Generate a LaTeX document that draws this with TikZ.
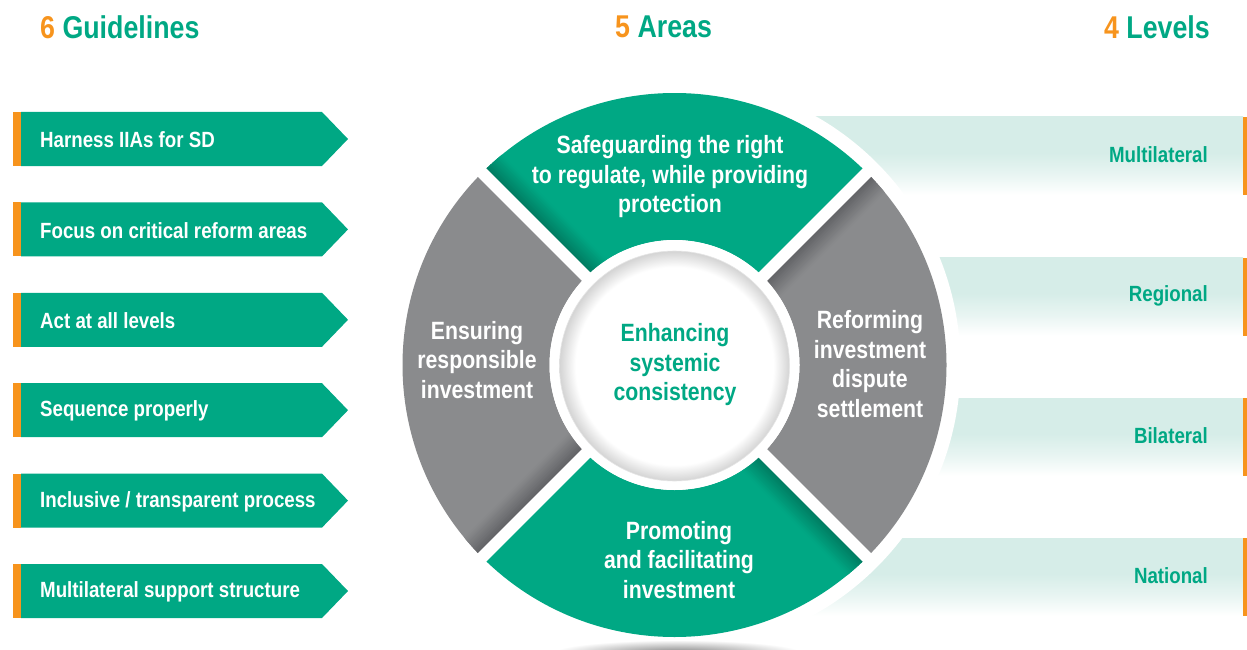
\documentclass[tikz,border=0pt]{standalone}
\usepackage{fontspec}
\setmainfont{Liberation Sans}[FakeStretch=0.85]
\definecolor{ugreen}{RGB}{0,168,132}
\definecolor{ugreendk}{RGB}{0,110,86}
\definecolor{uorange}{RGB}{247,148,29}
\definecolor{ugray}{RGB}{138,139,141}
\definecolor{ugraydk}{RGB}{85,86,90}
\definecolor{uband}{RGB}{214,237,232}
\pgfdeclareradialshading{innershade}{\pgfpoint{0bp}{0bp}}{color(0bp)=(white); color(21.5bp)=(white); color(25bp)=(black!17); color(50bp)=(black!17)}
\pgfdeclareverticalshading{bandshade}{100bp}{color(0bp)=(white); color(25bp)=(white); color(38bp)=(uband!55!white); color(52bp)=(uband); color(75bp)=(uband); color(100bp)=(uband)}
\newcommand\guidebox[3]{%
  \fill[ugreen] (21,#1-27) -- (322,#1-27) -- (348,#1) -- (322,#1+27) -- (21,#1+27) -- cycle;
  \fill[uorange] (13,#1-27) rectangle (21,#1+27);
  \node[guide] (#2) at (40,#1+1) {#3};}
\newcommand\levelband[3]{%
  \shade[shading=bandshade] (800,#1) rectangle (1243,#1+78);
  \fill[uorange] (1243,#1) rectangle (1247,#1+78);
  \node[level] (#2) at (1208,#1+38) {#3};}
\newcommand\segpath[1]{(#1:125) -- (#1:272) arc[start angle=#1, end angle=#1+90, radius=272] -- (#1+90:125) arc[start angle=#1+90, end angle=#1, radius=125] -- cycle}
\newcommand\ringseg[3]{%
  \fill[#2] \segpath{#1};
  \begin{scope}
    \clip \segpath{#1};
    \foreach \d in {0,...,26} {
      \pgfmathtruncatemacro\pp{100-3.7*\d}
      \draw[line width=1.4, color=#3!\pp!#2, rotate=#1+90] (0,-\d) -- (300,-\d);
    }
  \end{scope}}
\begin{document}
\begin{tikzpicture}[x=1pt,y=-1pt,
  head/.style={font=\fontsize{31.5}{34}\selectfont\bfseries, text=ugreen, inner sep=0},
  guide/.style={font=\fontsize{22}{24}\selectfont\bfseries, text=white, anchor=west, inner sep=0},
  level/.style={font=\fontsize{22}{24}\selectfont\bfseries, text=ugreen, anchor=east, inner sep=0},
  seg/.style={font=\fontsize{25}{29.5}\selectfont\bfseries, text=white, align=center, inner sep=0},
  ]
\useasboundingbox (0,0) rectangle (1247,650);

% headings
\node[head, anchor=west] (h1) at (40,27) {\textcolor{uorange}{6} Guidelines};
\node[head, anchor=west] (h2) at (615,27) {\textcolor{uorange}{5} Areas};
\node[head, anchor=east] (h3) at (1210,27) {\textcolor{uorange}{4} Levels};

% guidelines
\guidebox{139}{g1}{Harness IIAs for SD}
\guidebox{229.4}{g2}{Focus on critical reform areas}
\guidebox{319.8}{g3}{Act at all levels}
\guidebox{410.2}{g4}{Sequence properly}
\guidebox{500.6}{g5}{Inclusive / transparent process}
\guidebox{591}{g6}{Multilateral support structure}

% levels
\levelband{117}{l1}{Multilateral}
\levelband{257.5}{l2}{Regional}
\levelband{398}{l3}{Bilateral}
\levelband{538}{l4}{National}

% wheel
\begin{scope}[shift={(674.5,365)}, x=1pt, y=1pt]
  \fill[white] (0,0) circle (286);
  \shade[inner color=black!50, outer color=white] (3,-288) ellipse (125 and 13);
  \ringseg{45}{ugreen}{ugreendk}
  \ringseg{135}{ugray}{ugraydk}
  \ringseg{225}{ugreen}{ugreendk}
  \ringseg{-45}{ugray}{ugraydk}
  \foreach \a in {45,135,225,315} \draw[white, line width=12] (0,0) -- (\a:280);
  \fill[white] (0,0) circle (125);
  \shade[shading=innershade] (0,-1) circle (115);
  \draw[black!10, line width=0.6] (0,-1) circle (115);
\end{scope}

\node[seg] (a1) at (670,177) {Safeguarding the right\\to regulate, while providing\\protection};
\node[seg] (a2) at (870,364) {Reforming\\investment\\dispute\\settlement};
\node[seg] (a3) at (679,560) {Promoting\\and facilitating\\investment};
\node[seg] (a4) at (477,360) {Ensuring\\responsible\\investment};
\node[seg, text=ugreen] (a5) at (675,365) {Enhancing\\systemic\\consistency};
\end{tikzpicture}
\end{document}
